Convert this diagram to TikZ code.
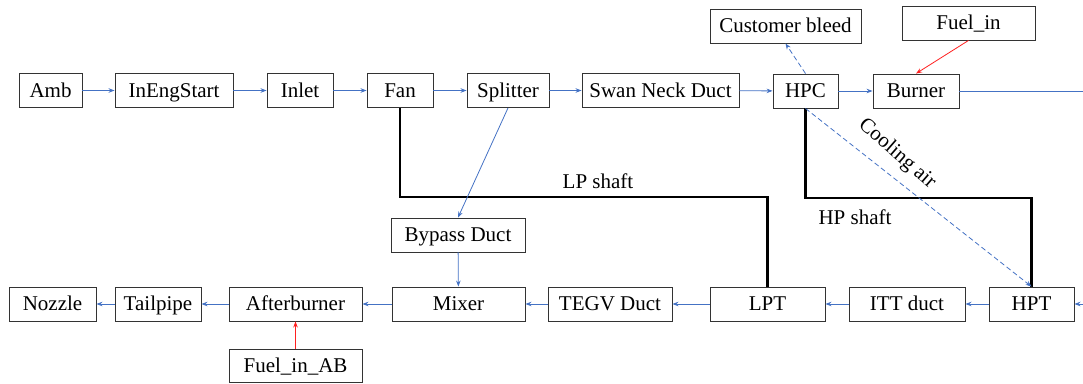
\documentclass[tikz,border=0pt]{standalone}
\usepackage{fontspec}
\setmainfont{Liberation Serif}
\usetikzlibrary{arrows.meta}
\definecolor{flow}{HTML}{4472C4}
\definecolor{fuel}{HTML}{FF2020}
\definecolor{edge}{HTML}{333333}
\tikzset{
  block/.style={draw=edge, line width=0.9pt, fill=white, inner sep=0pt,
    minimum height=34pt, text height=17pt, text depth=4pt,
    font=\fontsize{21}{25}\selectfont},
  flowline/.style={draw=flow, line width=0.8pt, -{Stealth[length=6pt,width=4.5pt]}},
  bleed/.style={flowline, dashed, dash pattern=on 5pt off 3pt},
  fuelline/.style={draw=fuel, line width=0.8pt, -{Stealth[length=6pt,width=4.5pt]}},
  shaft/.style={draw=black, line width=2.6pt},
  lbl/.style={font=\fontsize{21}{25}\selectfont, inner sep=0pt}
}
\begin{document}
\begin{tikzpicture}[x=1pt, y=-1pt]
\useasboundingbox (0,0) rectangle (1083,383);
% upper flow path
\node[block, minimum width=63pt]  (amb)      at (50.5,90.5)  {Amb};
\node[block, minimum width=118pt] (ineng)    at (174,90.5)   {InEngStart};
\node[block, minimum width=66pt]  (inlet)    at (300,90.5)   {Inlet};
\node[block, minimum width=66pt]  (fan)      at (400,90.5)   {Fan};
\node[block, minimum width=82pt]  (splitter) at (508,90.5)   {Splitter};
\node[block, minimum width=157pt] (swan)     at (660.5,90.5) {Swan Neck Duct};
\node[block, minimum width=65pt]  (hpc)      at (805.5,91)   {HPC};
\node[block, minimum width=86pt]  (burner)   at (916,91)     {Burner};
\node[block, minimum width=151pt] (bleed)    at (785.5,26)   {Customer bleed};
\node[block, minimum width=133pt] (fuelin)   at (968.5,23)   {Fuel\_in};
% lower flow path
\node[block, minimum width=85pt]  (hpt)      at (1031.5,304) {HPT};
\node[block, minimum width=116pt] (itt)      at (907,304)    {ITT duct};
\node[block, minimum width=115pt] (lpt)      at (767.5,304)  {LPT};
\node[block, minimum width=124pt] (tegv)     at (610,304)    {TEGV Duct};
\node[block, minimum width=133pt] (mixer)    at (458.5,304)  {Mixer};
\node[block, minimum width=133pt] (ab)       at (295.5,304)  {Afterburner};
\node[block, minimum width=86pt]  (tail)     at (158,304)    {Tailpipe};
\node[block, minimum width=87pt]  (nozzle)   at (52.5,304)   {Nozzle};
\node[block, minimum width=134pt] (bypass)   at (458,235)    {Bypass Duct};
\node[block, minimum width=133pt, minimum height=33pt] (fuelab) at (295.5,365.5) {Fuel\_in\_AB};

\coordinate (outR) at (1083,91);
\coordinate (inR)  at (1083,304);
\coordinate (lpk)  at (767.5,197);
\coordinate (hpk)  at (1031.5,198);

% shafts
\draw[shaft] (fan.south) |- (lpk) -- (lpt.north);
\draw[shaft] (hpc.south) |- (hpk) -- (hpt.north);
\node[lbl] (lplbl) at (598,181) {LP shaft};
\node[lbl] (hplbl) at (855,217) {HP shaft};

% gas path connectors
\draw[flowline] (amb) -- (ineng);
\draw[flowline] (ineng) -- (inlet);
\draw[flowline] (inlet) -- (fan);
\draw[flowline] (fan) -- (splitter);
\draw[flowline] (splitter) -- (swan);
\draw[flowline] (swan) -- (hpc);
\draw[flowline] (hpc) -- (burner);
\draw[draw=flow, line width=0.8pt] (burner.east) -- (outR);
\draw[flowline] (inR) -- (hpt.east);
\draw[flowline] (hpt) -- (itt);
\draw[flowline] (itt) -- (lpt);
\draw[flowline] (lpt) -- (tegv);
\draw[flowline] (tegv) -- (mixer);
\draw[flowline] (mixer) -- (ab);
\draw[flowline] (ab) -- (tail);
\draw[flowline] (tail) -- (nozzle);
\draw[flowline] (splitter.south) -- (bypass.north);
\draw[flowline] (bypass) -- (mixer);

% bleeds
\draw[bleed] (hpc.north) -- (bleed.south);
\draw[bleed] (hpc.south) -- (hpt.north);
\node[lbl, rotate=-41] (cool) at (897,154) {Cooling air};

% fuel
\draw[fuelline] (fuelin.south) -- (burner.north);
\draw[fuelline] (fuelab) -- (ab);
\end{tikzpicture}
\end{document}
